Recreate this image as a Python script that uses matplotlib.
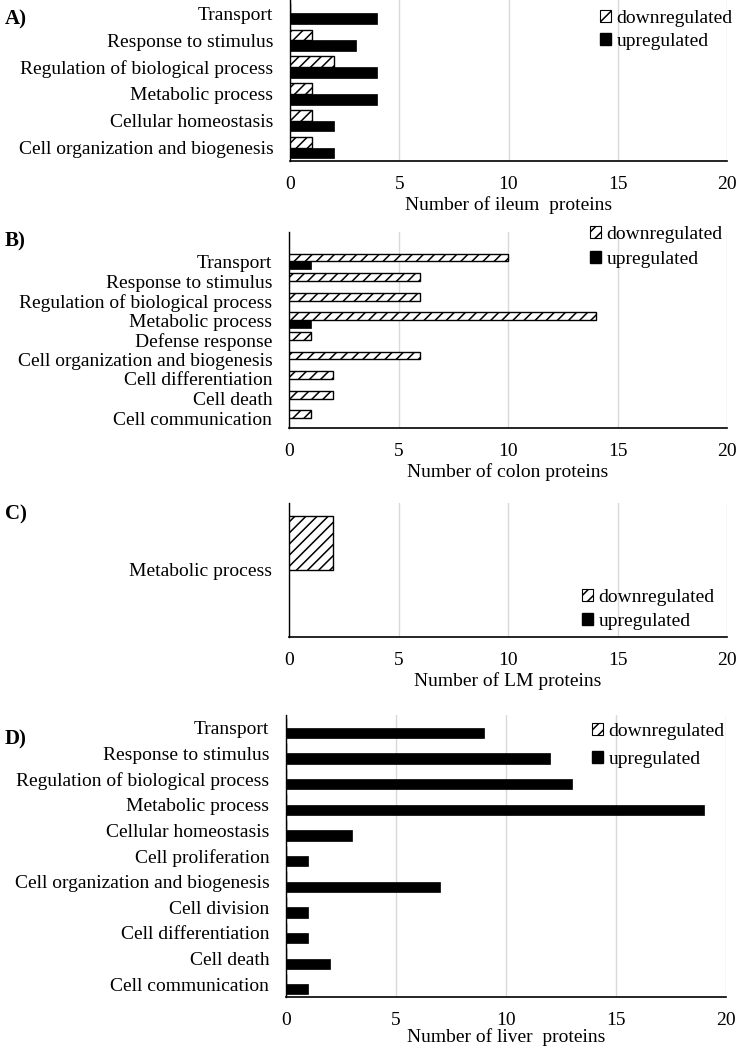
import numpy as np
import matplotlib
matplotlib.use("Agg")
import matplotlib.pyplot as plt
import matplotlib.patches as mpatches

plt.rcParams.update({"font.family": ["Liberation Serif", "DejaVu Serif"],
                     "font.size": 14, "hatch.linewidth": 1.1})

# ---- data (top -> bottom as in the figure) ----
ileum_cats = ["Transport", "Response to stimulus", "Regulation of biological process",
              "Metabolic process", "Cellular homeostasis", "Cell organization and biogenesis"]
ileum_down = [0, 1, 2, 1, 1, 1]
ileum_up = [4, 3, 4, 4, 2, 2]

colon_cats = ["Transport", "Response to stimulus", "Regulation of biological process",
              "Metabolic process", "Defense response", "Cell organization and biogenesis",
              "Cell differentiation", "Cell death", "Cell communication"]
colon_down = [10, 6, 6, 14, 1, 6, 2, 2, 1]
colon_up = [1, 0, 0, 1, 0, 0, 0, 0, 0]

lm_cats = ["Metabolic process"]
lm_down = [2]
lm_up = [0]

liver_cats = ["Transport", "Response to stimulus", "Regulation of biological process",
              "Metabolic process", "Cellular homeostasis", "Cell proliferation",
              "Cell organization and biogenesis", "Cell division", "Cell differentiation",
              "Cell death", "Cell communication"]
liver_down = [0] * 11
liver_up = [9, 12, 13, 19, 3, 1, 7, 1, 1, 2, 1]

W, H = 737, 1050
fig = plt.figure(figsize=(W / 100, H / 100), dpi=100)


def panel(letter, cats, down, up, xlabel, box, ytop_extra, leg, xlab_off=35):
    # box = (left_px, right_px, top_px, bottom_px)
    l, r, t, b = box
    ax = fig.add_axes([l / W, 1 - b / H, (r - l) / W, (b - t) / H])
    y = np.arange(len(cats))
    ax.barh(y - 0.2, down, height=0.4, color="white", edgecolor="black",
            hatch="///", linewidth=1.0, zorder=3)
    ax.barh(y + 0.2, up, height=0.4, color="black", edgecolor="black",
            linewidth=0.5, zorder=3)
    ax.set_ylim(len(cats) - 0.5, -0.5 - ytop_extra)
    ax.set_yticks(y)
    ax.set_yticklabels(cats)
    ax.set_xlim(0, 20)
    ax.set_xticks([0, 5, 10, 15, 20])
    ax.tick_params(axis="both", length=0)
    ax.tick_params(axis="x", pad=10.5)
    ax.tick_params(axis="y", pad=12)
    ax.grid(axis="x", color="#d9d9d9", lw=1.0, zorder=0)
    for s in ["top", "right"]:
        ax.spines[s].set_visible(False)
    ax.spines["left"].set_linewidth(1.0)
    ax.spines["bottom"].set_linewidth(1.2)
    ax.set_xlabel(xlabel)
    ax.xaxis.set_label_coords(0.5, -xlab_off / (b - t))
    fig.text(5 / W, 1 - (t + leg[3]) / H, letter,
             fontsize=15, fontweight="bold", va="center", ha="left")
    handles = [mpatches.Patch(facecolor="white", edgecolor="black", hatch="///", lw=0.8),
               mpatches.Patch(facecolor="black", edgecolor="black")]
    ax.legend(handles, ["downregulated", "upregulated"], loc="upper left",
              bbox_to_anchor=(leg[0] / W, 1 - leg[1] / H), bbox_transform=fig.transFigure,
              frameon=False, borderpad=0, borderaxespad=0, handlelength=0.55,
              handleheight=0.55, handletextpad=0.3, labelspacing=leg[2], fontsize=14)
    return ax


panel("A)", ileum_cats, ileum_down, ileum_up, "Number of ileum  proteins",
      (290, 727, 0, 161), 0.0, (600, 10, 0.32, 19))
panel("B)", colon_cats, colon_down, colon_up, "Number of colon proteins",
      (289, 727, 232, 428), 1.0, (590, 226, 0.41, 9))
panel("C)", lm_cats, lm_down, lm_up, "Number of LM proteins",
      (289, 727, 503, 637), 0.0, (582, 589, 0.36, 11))
panel("D)", liver_cats, liver_down, liver_up, "Number of liver  proteins",
      (286, 726, 715, 997), 0.0, (592, 723, 0.56, 24), xlab_off=31)

fig.savefig("out.png", dpi=100)
